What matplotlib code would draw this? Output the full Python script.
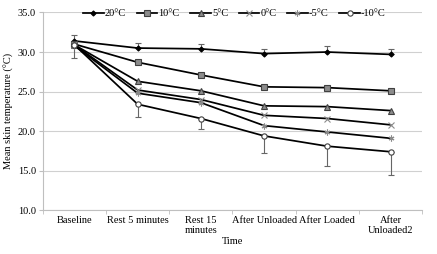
import matplotlib
matplotlib.use('Agg')
import matplotlib.pyplot as plt
import numpy as np

plt.rcParams['font.family'] = ['Liberation Serif', 'DejaVu Serif']

categories = ['Baseline', 'Rest 5 minutes', 'Rest 15\nminutes', 'After Unloaded', 'After Loaded', 'After\nUnloaded2']
labels = ['20°C', '10°C', '5°C', '0°C', '-5°C', '-10°C']
t20 = [31.4, 30.5, 30.4, 29.8, 30.0, 29.7]
t10 = [31.0, 28.7, 27.1, 25.6, 25.5, 25.1]
t5 = [30.9, 26.3, 25.1, 23.2, 23.1, 22.6]
t0 = [30.9, 25.2, 24.0, 22.0, 21.6, 20.8]
tm5 = [30.8, 24.8, 23.6, 20.7, 19.9, 19.1]
tm10 = [30.9, 23.4, 21.6, 19.4, 18.1, 17.4]
err20 = [0.7, 0.6, 0.6, 0.55, 0.8, 0.7]
errm10 = [1.6, 1.6, 1.35, 2.1, 2.55, 2.9]

series = [t20, t10, t5, t0, tm5, tm10]
markers = ['D', 's', '^', 'x', (6, 2, 0), 'o']
faces = ['black', '#8c8c8c', '#8c8c8c', 'none', 'none', 'white']
edges = ['black', '#404040', '#404040', '#8a8a8a', '#8a8a8a', '#404040']
sizes = [2.6, 3.8, 3.8, 4.2, 4.2, 3.8]

fig = plt.figure(figsize=(4.37, 2.54), dpi=100)
ax = fig.add_axes([0.098, 0.172, 0.868, 0.779])

x = np.arange(len(categories))
ax.errorbar(x, t20, yerr=[np.zeros(6), err20], fmt='none', ecolor='#666666',
            elinewidth=0.8, capsize=2.5, capthick=0.8, zorder=2)
ax.errorbar(x, tm10, yerr=[errm10, np.zeros(6)], fmt='none', ecolor='#666666',
            elinewidth=0.8, capsize=2.5, capthick=0.8, zorder=2)

for i in range(len(series)):
    ax.plot(x, series[i], color='black', lw=1.25, marker=markers[i], ms=sizes[i],
            mfc=faces[i], mec=edges[i], mew=0.8, label=labels[i], zorder=3)

ax.set_xlim(-0.5, 5.5)
ax.set_ylim(10, 35)
ax.set_yticks([10, 15, 20, 25, 30, 35])
ax.set_yticklabels(['%.1f' % v for v in [10, 15, 20, 25, 30, 35]])
ax.set_xticks(x)
ax.set_xticklabels(categories)
ax.set_xticks(np.arange(-0.5, 6, 1), minor=True)
ax.tick_params(axis='x', which='major', length=0, labelsize=7.5, pad=4)
ax.tick_params(axis='x', which='minor', length=3, color='#bfbfbf')
ax.tick_params(axis='y', length=3, color='#bfbfbf', labelsize=7.5, pad=2)
ax.grid(axis='y', color='#d0d0d0', lw=0.8)
ax.set_axisbelow(True)
for s in ['top', 'right']:
    ax.spines[s].set_visible(False)
ax.spines['left'].set_color('#bfbfbf')
ax.spines['bottom'].set_color('#bfbfbf')

ax.set_xlabel('Time', fontsize=7.5, labelpad=1)
ax.set_ylabel('Mean skin temperature (°C)', fontsize=7.5, labelpad=3)

ax.legend(loc='lower center', bbox_to_anchor=(0.505, 0.965), ncol=6, frameon=False,
          fontsize=7.5, handlelength=2.0, handletextpad=0.1, columnspacing=1.0,
          borderaxespad=0, borderpad=0.1)

fig.savefig('out.png', dpi=100)
